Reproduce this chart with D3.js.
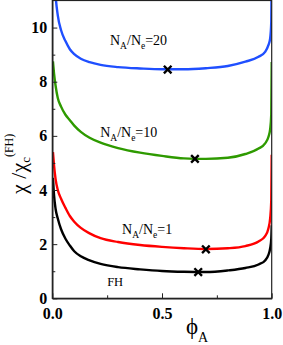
<!DOCTYPE html>
<html>
<head>
<meta charset="utf-8">
<script src="https://cdn.jsdelivr.net/npm/d3@7"></script>
<style>
  body { margin: 0; background: #fff; }
  svg { display: block; }
  .tick text { font-family: "Liberation Serif", "Times New Roman", serif; font-weight: bold; font-size: 16px; }
</style>
</head>
<body>
<div id="chart"></div>
<script>
// phi grid shared by all curves
var phi = [0.003, 0.008, 0.015, 0.025, 0.04, 0.06, 0.08, 0.1, 0.13, 0.17, 0.22, 0.3, 0.4, 0.5, 0.6, 0.7, 0.8, 0.88, 0.94, 0.97, 0.985, 0.993, 0.998, 1.0];

var chiFH   = [4.45, 3.8, 3.3, 2.95, 2.55, 2.2, 1.95, 1.74, 1.55, 1.4, 1.27, 1.15, 1.07, 1.01, 0.98, 0.97, 1.03, 1.12, 1.25, 1.4, 1.6, 1.85, 2.2, 2.7];
var chiN1   = [5.4, 4.9, 4.4, 4.0, 3.68, 3.34, 3.04, 2.83, 2.6, 2.4, 2.22, 2.08, 1.97, 1.9, 1.85, 1.82, 1.85, 1.93, 2.1, 2.3, 2.58, 2.95, 3.6, 5.3];
var chiN10  = [8.75, 8.3, 7.85, 7.4, 7.08, 6.78, 6.58, 6.38, 6.15, 5.93, 5.75, 5.55, 5.38, 5.26, 5.17, 5.15, 5.19, 5.33, 5.53, 5.72, 5.96, 6.25, 6.8, 8.73];
var chiN20  = [13.5, 12.3, 11.2, 10.45, 9.9, 9.5, 9.2, 9.02, 8.85, 8.72, 8.62, 8.54, 8.49, 8.46, 8.46, 8.5, 8.58, 8.74, 8.92, 9.1, 9.35, 9.6, 10.2, 12];

// critical points (crosses)
var critPhi = [0.665, 0.70, 0.65, 0.526];
var critChi = [0.97, 1.81, 5.15, 8.45];

var seriesColors = ["#000000", "#ff0000", "#2e9a00", "#1f4fff"];

var yMajor = [0, 2, 4, 6, 8, 10];
var yMinor = [1, 3, 5, 7, 9];
var xMajor = [0, 0.5, 1.0];
var xMinor = [0.25, 0.75];

var W = 283, H = 345;
var margin = { left: 52.3, top: 0.5, right: 11.3, bottom: 46.7 };
var width = W - margin.left - margin.right;
var height = H - margin.top - margin.bottom;

var svg = d3.select("#chart").append("svg")
    .attr("width", W).attr("height", H);

var g = svg.append("g")
    .attr("transform", "translate(" + margin.left + "," + margin.top + ")");

var x = d3.scaleLinear().domain([0, 1]).range([0, width]);
var y = d3.scaleLinear().domain([0, 11]).range([height, 0]);

g.append("clipPath").attr("id", "clip")
    .append("rect").attr("width", width).attr("height", height);

// curves
var line = d3.line()
    .x(function (d) { return x(d[0]); })
    .y(function (d) { return y(d[1]); })
    .curve(d3.curveMonotoneX);

var allSeries = [chiFH, chiN1, chiN10, chiN20];
var curves = g.append("g").attr("clip-path", "url(#clip)");
allSeries.forEach(function (vals, i) {
    curves.append("path")
        .datum(phi.map(function (p, j) { return [p, vals[j]]; }))
        .attr("fill", "none")
        .attr("stroke", seriesColors[i])
        .attr("stroke-width", 2.4)
        .attr("d", line);
});

// crosses
var s = 3.8;
critPhi.forEach(function (p, i) {
    var cx = x(p), cy = y(critChi[i]);
    g.append("path")
        .attr("d", "M" + (cx - s) + "," + (cy - s) + "L" + (cx + s) + "," + (cy + s) +
            "M" + (cx - s) + "," + (cy + s) + "L" + (cx + s) + "," + (cy - s))
        .attr("stroke", "#000")
        .attr("stroke-width", 2.4);
});

// axes (ticks inward)
var serif = "'Liberation Serif', 'Times New Roman', serif";

g.append("g")
    .call(d3.axisLeft(y).tickValues(yMajor).tickSize(-5).tickSizeOuter(0).tickPadding(5)
        .tickFormat(d3.format("d")));
g.append("g")
    .call(d3.axisLeft(y).tickValues(yMinor).tickSize(-3).tickSizeOuter(0).tickFormat(""));

g.append("g")
    .attr("transform", "translate(0," + height + ")")
    .call(d3.axisBottom(x).tickValues(xMajor).tickSize(-5).tickSizeOuter(0).tickPadding(9)
        .tickFormat(d3.format(".1f")));
g.append("g")
    .attr("transform", "translate(0," + height + ")")
    .call(d3.axisBottom(x).tickValues(xMinor).tickSize(-3).tickSizeOuter(0).tickFormat(""));

g.selectAll(".tick text").attr("fill", "#000");
g.selectAll(".tick line").attr("stroke", "#222");
g.selectAll(".domain").attr("stroke", "#222");

// frame
g.append("rect")
    .attr("width", width).attr("height", height)
    .attr("fill", "none").attr("stroke", "#222").attr("stroke-width", 1.2);

// curve labels
function ratioLabel(px, py, val) {
    var t = g.append("text")
        .attr("x", px).attr("y", py)
        .style("font-family", serif)
        .style("font-size", "14px");
    t.append("tspan").text("N");
    t.append("tspan").attr("dy", 4).style("font-size", "9.5px").text("A");
    t.append("tspan").attr("dy", -4).text("/N");
    t.append("tspan").attr("dy", 4).style("font-size", "9.5px").text("e");
    t.append("tspan").attr("dy", -4).text("=" + val);
}
ratioLabel(x(0.263), y(9.35), "20");
ratioLabel(x(0.218), y(5.95), "10");
ratioLabel(x(0.318), y(2.38), "1");

g.append("text")
    .attr("x", x(0.25)).attr("y", y(0.45))
    .style("font-family", serif)
    .style("font-size", "12.5px")
    .text("FH");

// axis titles
var xt = svg.append("text")
    .attr("x", 186).attr("y", 334)
    .style("font-family", serif)
    .style("font-size", "23px");
xt.append("tspan").text("\u03d5");
xt.append("tspan").attr("dy", 8).style("font-size", "14px").text("A");

var yt = svg.append("text")
    .attr("transform", "translate(26,194) rotate(-90)")
    .style("font-family", serif)
    .style("font-size", "22px");
yt.append("tspan").text("\u03c7 /\u03c7");
yt.append("tspan").attr("dy", 4).style("font-size", "13px").text("c");
yt.append("tspan").attr("dy", -17).style("font-size", "12px").text("(FH)");
</script>
</body>
</html>
